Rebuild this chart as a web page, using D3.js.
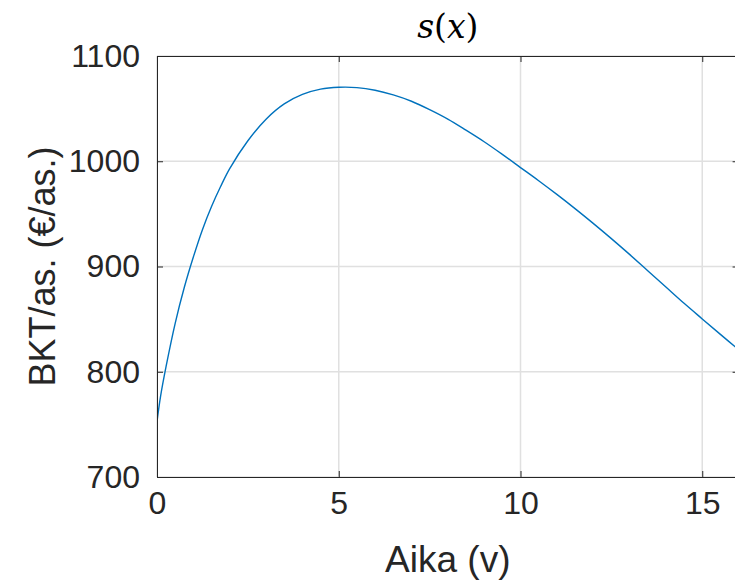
<!DOCTYPE html>
<html><head><meta charset="utf-8">
<script src="https://cdn.jsdelivr.net/npm/d3@7"></script>
<style>html,body{margin:0;padding:0;background:#fff;overflow:hidden}</style>
</head><body><svg id="c" width="735" height="580"></svg>
<script>
const xValues = [0, 0.1, 0.25, 0.5, 0.75, 1.0, 1.25, 1.5, 1.75, 2.0, 2.5, 3.0, 3.5, 4.0, 4.5, 5.0, 5.5, 6.0, 6.5, 7.0, 7.5, 8.0, 8.5, 9.0, 9.5, 10.0, 10.5, 11.0, 11.5, 12.0, 12.5, 13.0, 13.5, 14.0, 14.5, 15.0, 15.5, 16.0];
const yValues = [752.5, 777, 805, 846, 880, 909, 935, 957, 976, 993, 1019.5, 1040, 1054.5, 1063.5, 1068.5, 1070.3, 1070, 1067.5, 1063, 1057, 1049, 1040, 1029.5, 1018.5, 1006.5, 994, 981.5, 968.5, 955, 941, 926.5, 911.5, 896, 880.5, 865, 850.2, 835.5, 821];
const xTicks = [0, 5, 10, 15];
const yTicks = [700, 800, 900, 1000, 1100];
const titleText = "s(x)";
const xLabel = "Aika (v)";
const yLabel = "BKT/as. (€/as.)";

const svg = d3.select("#c");
const L = 157, R = 738.6, T = 56, B = 477;
const x = d3.scaleLinear().domain([0, 16]).range([L, R]);
const y = d3.scaleLinear().domain([700, 1100]).range([B, T]);
const axisCol = "#262626";
const font = "Arial, 'Liberation Sans', Helvetica, sans-serif";

// grid
svg.append("g").selectAll("line").data(xTicks).join("line")
  .attr("x1", d => x(d)).attr("x2", d => x(d)).attr("y1", T).attr("y2", B)
  .attr("stroke", "#e0e0e0").attr("stroke-width", 1.5);
svg.append("g").selectAll("line").data(yTicks).join("line")
  .attr("x1", L).attr("x2", R).attr("y1", d => y(d)).attr("y2", d => y(d))
  .attr("stroke", "#e0e0e0").attr("stroke-width", 1.5);

// line
svg.append("clipPath").attr("id", "clip").append("rect")
  .attr("x", L).attr("y", T).attr("width", R - L).attr("height", B - T);
const pts = xValues.map((v, i) => [v, yValues[i]]);
svg.append("path").datum(pts)
  .attr("clip-path", "url(#clip)")
  .attr("fill", "none").attr("stroke", "#0072BD").attr("stroke-width", 1.4)
  .attr("d", d3.line().x(d => x(d[0])).y(d => y(d[1])).curve(d3.curveCatmullRom.alpha(0.5)));

// axes (box with inward ticks)
const tl = 6;
const ax = svg.append("g");
ax.append("g").attr("transform", `translate(0,${B})`)
  .call(d3.axisBottom(x).tickValues(xTicks).tickSize(-tl).tickPadding(14).tickFormat(d3.format("d")));
ax.append("g").attr("transform", `translate(0,${T})`)
  .call(d3.axisTop(x).tickValues(xTicks).tickSize(-tl).tickFormat(""));
ax.append("g").attr("transform", `translate(${L},0)`)
  .call(d3.axisLeft(y).tickValues(yTicks).tickSize(-tl).tickPadding(17).tickFormat(d3.format("d")));
ax.append("g").attr("transform", `translate(${R},0)`)
  .call(d3.axisRight(y).tickValues(yTicks).tickSize(-tl).tickFormat(""));
ax.selectAll(".domain").attr("stroke", axisCol).attr("stroke-width", 1);
ax.selectAll(".tick line").attr("stroke", axisCol).attr("stroke-width", 1);
ax.selectAll(".tick text").attr("fill", axisCol).style("font-family", font).style("font-size", "32px");

// title
const t = svg.append("text").attr("x", (L + R) / 2).attr("y", 38).attr("text-anchor", "middle")
  .style("font-family", "'DejaVu Serif', 'Liberation Serif', serif").style("font-size", "33px").attr("fill", "#000");
t.append("tspan").style("font-style", "italic").text(titleText[0]);
t.append("tspan").text("(");
t.append("tspan").style("font-style", "italic").text(titleText[2]);
t.append("tspan").text(")");

svg.append("text").attr("x", (L + R) / 2).attr("y", 572).attr("text-anchor", "middle")
  .style("font-family", font).style("font-size", "37px").attr("fill", axisCol).text(xLabel);
svg.append("text").attr("transform", `translate(55,${(T + B) / 2}) rotate(-90)`).attr("text-anchor", "middle")
  .style("font-family", font).style("font-size", "36px").attr("fill", axisCol).text(yLabel);
</script></body></html>
